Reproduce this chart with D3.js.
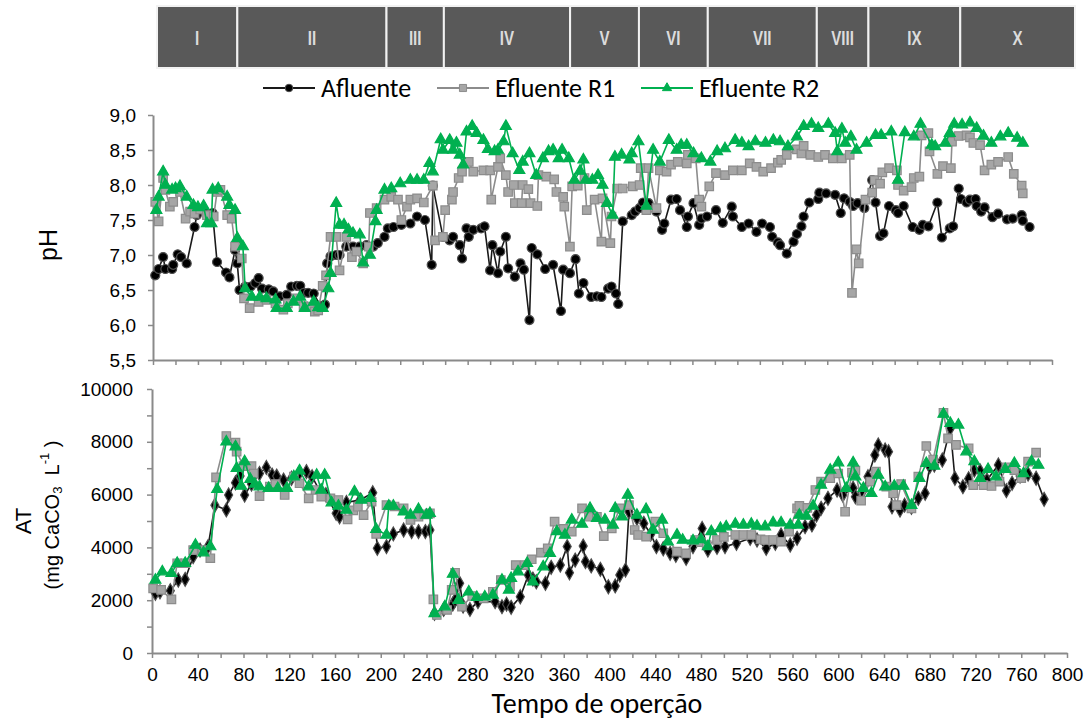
<!DOCTYPE html>
<html>
<head>
<meta charset="utf-8">
<script src="https://cdn.jsdelivr.net/npm/d3@7"></script>
<style>
  body { margin: 0; background: #fff; }
  svg { display: block; }
</style>
</head>
<body>
<svg id="chart" width="1089" height="722"></svg>
<script>
// fases operacionais (dias)
var fases = ["I", "II", "III", "IV", "V", "VI", "VII", "VIII", "IX", "X"];
var faseLimites = [0, 70, 200, 250, 360, 420, 480, 575, 620, 700, 800];

var seriesNomes = ["Afluente", "Efluente R1", "Efluente R2"];

// pH: [dia, valor]
var phAfluente = [[2,6.71],[5,6.80],[9,6.97],[11,6.80],[17,6.80],[18,6.86],[22,7.01],[25,6.97],[30,6.88],[37,7.40],[39,7.57],[45,7.65],[50,7.55],[53,7.60],[57,6.90],[65,6.75],[68,6.68],[73,7.07],[75,6.88],[77,6.50],[82,6.55],[87,6.55],[91,6.60],[94,6.67],[97,6.52],[103,6.51],[107,6.48],[113,6.41],[119,6.43],[123,6.55],[128,6.56],[131,6.56],[134,6.46],[138,6.46],[143,6.45],[149,6.27],[153,6.29],[155,6.88],[158,6.98],[163,7.00],[166,7.00],[172,7.12],[178,7.12],[184,7.12],[190,7.14],[196,7.12],[200,7.17],[206,7.26],[209,7.38],[214,7.40],[221,7.43],[229,7.45],[235,7.55],[242,7.50],[248,6.86],[249,7.99],[258,7.26],[264,7.21],[267,7.26],[273,7.14],[275,6.95],[279,7.38],[281,7.26],[285,7.36],[292,7.38],[295,7.41],[300,6.78],[302,7.14],[307,6.74],[309,7.05],[314,7.26],[316,6.81],[322,6.69],[327,6.88],[330,6.79],[335,6.07],[337,7.10],[342,7.01],[349,6.80],[356,6.86],[363,6.20],[365,6.79],[371,6.74],[376,6.94],[379,6.45],[383,6.60],[390,6.40],[395,6.41],[399,6.40],[405,6.52],[408,6.55],[412,6.45],[414,6.30],[418,7.48],[426,7.57],[429,7.62],[433,7.67],[436,7.75],[441,7.74],[448,7.62],[453,7.36],[455,7.45],[461,7.79],[466,7.80],[469,7.64],[475,7.40],[476,7.55],[481,7.74],[486,7.43],[488,7.52],[493,7.55],[501,7.64],[507,7.46],[515,7.69],[516,7.55],[524,7.40],[530,7.45],[537,7.33],[542,7.45],[549,7.40],[551,7.26],[556,7.18],[558,7.14],[564,7.02],[570,7.19],[573,7.30],[577,7.41],[579,7.55],[584,7.75],[592,7.80],[593,7.89],[599,7.88],[607,7.86],[612,7.60],[615,7.81],[620,7.76],[623,7.70],[627,7.74],[633,7.67],[640,8.07],[643,7.75],[647,7.27],[650,7.31],[655,7.70],[661,7.64],[663,7.60],[668,7.70],[676,7.40],[682,7.36],[685,7.43],[690,7.41],[698,7.75],[702,7.25],[709,7.38],[712,7.41],[717,7.95],[719,7.80],[724,7.75],[727,7.79],[732,7.80],[733,7.70],[737,7.62],[740,7.68],[747,7.54],[752,7.59],[760,7.51],[765,7.52],[773,7.57],[774,7.49],[780,7.40]];

var phR1 = [[2,7.76],[5,7.48],[9,8.10],[11,7.93],[15,7.69],[18,7.76],[24,7.90],[29,7.52],[33,7.62],[37,7.59],[42,7.65],[48,7.57],[54,7.55],[57,7.90],[60,7.93],[66,7.57],[70,7.52],[73,7.12],[79,6.95],[81,6.38],[86,6.24],[94,6.33],[101,6.36],[109,6.31],[116,6.22],[120,6.31],[128,6.38],[134,6.27],[140,6.26],[144,6.19],[147,6.21],[151,6.56],[154,6.71],[158,7.26],[163,7.26],[166,6.78],[172,7.26],[177,6.97],[181,7.05],[187,6.88],[192,7.12],[193,7.60],[199,7.67],[206,7.79],[212,7.83],[218,7.79],[221,7.50],[226,7.69],[229,7.79],[235,7.81],[241,7.75],[249,7.99],[251,7.21],[258,7.26],[260,7.64],[266,7.79],[267,7.90],[272,8.10],[275,8.19],[281,8.33],[285,8.19],[294,8.21],[300,8.21],[301,7.79],[307,8.26],[309,8.38],[314,8.14],[316,7.90],[321,8.00],[322,7.74],[328,7.74],[329,8.00],[334,7.94],[336,7.74],[342,7.70],[343,8.14],[350,8.12],[357,8.08],[359,7.90],[365,7.83],[366,7.69],[371,7.12],[373,7.98],[378,7.99],[384,8.10],[386,7.64],[393,7.79],[399,7.19],[400,7.81],[407,7.17],[408,7.55],[413,7.95],[418,7.95],[427,7.98],[433,8.00],[434,8.24],[439,7.64],[441,8.24],[448,7.67],[451,8.21],[457,8.19],[461,8.29],[467,8.33],[475,8.31],[476,8.43],[483,8.38],[486,7.79],[488,7.69],[495,7.98],[501,8.17],[509,8.14],[516,8.21],[524,8.21],[531,8.31],[537,8.26],[543,8.19],[550,8.24],[556,8.32],[559,8.36],[564,8.43],[573,8.51],[577,8.45],[579,8.56],[585,8.43],[592,8.40],[598,8.43],[605,8.38],[613,8.38],[620,8.43],[622,6.46],[626,7.08],[628,6.88],[634,7.79],[640,7.89],[642,8.07],[647,8.02],[649,8.18],[655,8.24],[662,8.21],[663,8.00],[668,7.92],[675,7.97],[677,8.10],[682,8.12],[684,8.71],[690,8.74],[691,8.48],[698,8.16],[703,8.27],[710,8.24],[711,8.62],[717,8.70],[724,8.71],[727,8.68],[730,8.60],[736,8.57],[740,8.21],[746,8.29],[752,8.33],[761,8.40],[766,8.16],[773,7.99],[774,7.88]];

var phR2 = [[3,7.64],[5,7.83],[9,8.19],[11,8.00],[17,7.93],[20,7.95],[24,7.98],[30,7.83],[36,7.71],[40,7.68],[45,7.70],[48,7.45],[52,7.45],[53,7.93],[58,7.95],[66,7.83],[68,7.71],[73,7.64],[75,7.24],[80,7.12],[82,6.52],[88,6.40],[95,6.40],[101,6.38],[109,6.36],[110,6.24],[119,6.24],[125,6.33],[131,6.40],[135,6.24],[143,6.33],[147,6.25],[151,6.24],[156,6.52],[158,6.74],[163,7.74],[166,7.43],[170,7.43],[174,7.36],[178,7.31],[184,7.29],[187,6.89],[193,7.00],[198,7.48],[199,7.64],[206,7.93],[212,7.95],[220,8.02],[229,8.07],[235,8.07],[241,8.07],[246,8.31],[249,8.19],[256,8.65],[258,8.50],[264,8.64],[267,8.50],[270,8.60],[273,8.43],[276,8.29],[279,8.76],[284,8.84],[288,8.74],[294,8.64],[298,8.51],[304,8.48],[307,8.50],[312,8.62],[314,8.84],[320,8.45],[326,8.21],[329,8.33],[335,8.45],[341,8.14],[347,8.38],[352,8.48],[356,8.50],[361,8.38],[364,8.50],[370,8.38],[375,8.07],[380,8.20],[383,8.36],[385,8.07],[391,8.07],[396,8.14],[400,8.00],[404,7.74],[409,7.57],[411,8.40],[417,8.43],[424,8.36],[426,8.45],[432,8.62],[439,7.70],[445,8.50],[451,8.33],[459,8.64],[466,8.50],[470,8.57],[475,8.57],[481,8.45],[488,8.38],[496,8.33],[502,8.48],[509,8.52],[518,8.64],[524,8.60],[530,8.55],[536,8.62],[545,8.60],[552,8.64],[558,8.62],[565,8.55],[573,8.69],[579,8.84],[586,8.87],[592,8.81],[601,8.87],[607,8.74],[609,8.48],[613,8.80],[616,8.60],[621,8.69],[626,8.50],[635,8.60],[643,8.71],[648,8.71],[657,8.76],[663,8.07],[669,8.75],[677,8.69],[683,8.87],[693,8.57],[696,8.55],[705,8.60],[709,8.74],[713,8.87],[720,8.86],[727,8.89],[733,8.81],[739,8.70],[746,8.60],[754,8.69],[761,8.74],[769,8.67],[774,8.60]];

// AT (mg CaCO3 L-1): [dia, valor]
var atAfluente = [[3,2260],[7,2320],[16,2360],[23,2765],[29,2790],[36,3650],[42,3900],[49,4030],[55,5600],[65,5420],[67,5985],[73,6450],[77,6700],[81,5985],[87,6400],[94,6800],[100,7030],[105,6740],[109,6700],[115,6550],[122,6620],[128,6750],[135,6870],[140,6680],[147,6110],[152,6000],[161,5290],[164,5160],[170,5700],[182,5800],[193,6070],[197,3965],[205,4030],[211,4510],[220,4660],[227,4600],[233,4600],[239,4600],[243,4660],[247,1500],[255,1650],[263,1855],[265,2000],[269,2640],[272,1780],[278,1650],[285,1945],[300,1945],[306,1755],[310,1850],[314,1730],[322,2130],[329,2950],[333,2800],[336,2700],[344,2640],[349,3245],[357,3330],[363,4030],[365,3040],[370,3520],[377,4050],[379,3460],[384,3300],[392,3170],[399,2510],[405,2540],[409,2955],[414,3145],[417,5350],[424,5100],[430,4910],[436,4500],[441,4030],[447,3950],[453,3775],[458,3700],[467,3590],[473,4030],[481,4720],[486,3900],[494,4000],[501,4030],[511,4155],[523,4345],[529,4280],[537,3965],[545,4155],[550,4470],[558,4090],[564,4345],[571,4785],[577,4850],[581,5225],[585,5480],[591,5860],[599,6175],[604,5985],[613,6240],[615,5920],[621,6100],[626,6680],[632,7500],[635,7880],[641,7690],[644,7625],[647,5540],[654,5415],[658,5600],[664,5520],[670,5860],[676,6050],[680,7060],[684,7120],[691,7310],[698,8510],[702,6620],[709,6300],[714,6600],[719,6930],[724,6900],[730,6550],[740,7120],[747,6150],[752,6430],[759,6700],[766,6780],[773,6620],[780,5820]];

var atR1 = [[1,2450],[8,2390],[17,2030],[22,3400],[29,3400],[36,3900],[44,3900],[51,3590],[56,6655],[65,8220],[73,7970],[74,7625],[80,7080],[87,7080],[89,6800],[94,5945],[103,6300],[108,6400],[116,5985],[124,6680],[129,6430],[137,5860],[143,6175],[148,5920],[156,5860],[163,5795],[171,5060],[176,5400],[180,5540],[185,5225],[192,5730],[196,4510],[205,5600],[212,5550],[220,5480],[226,5040],[233,5160],[238,5250],[243,5290],[246,2030],[249,1440],[258,1630],[262,2390],[265,3040],[271,1755],[280,2160],[290,2070],[298,2320],[305,2765],[313,2510],[318,3330],[326,3330],[332,3550],[340,3800],[346,3965],[352,4975],[360,4700],[367,4600],[376,5480],[382,5160],[389,5160],[395,4430],[402,4720],[409,5480],[417,5600],[422,4660],[425,4470],[432,4405],[440,4975],[447,4535],[459,3840],[467,3775],[475,4280],[480,4200],[485,4090],[494,4280],[500,4400],[510,4470],[517,4470],[524,4470],[532,4305],[536,4280],[543,4280],[550,4215],[557,4600],[564,5480],[566,5570],[573,5500],[580,6175],[585,6490],[593,6620],[600,6800],[606,5350],[612,6830],[615,6905],[620,5770],[628,6490],[633,6870],[642,6300],[648,6050],[651,5600],[655,6400],[664,5480],[670,6680],[677,7840],[683,7330],[692,9100],[696,8130],[703,7880],[714,7750],[718,6360],[727,6360],[734,6325],[741,6490],[747,7030],[754,6930],[760,6620],[766,7250],[773,7590]];

var atR2 = [[3,2765],[9,3080],[17,3020],[22,3400],[29,3400],[38,4090],[45,3800],[51,4030],[57,6200],[65,8000],[73,7815],[74,7000],[78,6325],[81,7250],[86,6580],[90,6400],[94,6300],[102,6240],[110,6240],[118,6240],[124,6680],[129,6905],[137,6300],[144,6740],[148,6175],[151,6740],[157,5695],[163,5570],[170,5415],[177,6110],[183,5795],[191,5860],[196,4685],[205,4470],[207,5570],[211,5570],[220,5350],[226,5225],[233,5440],[240,5225],[243,5290],[247,1500],[256,1755],[263,2990],[268,2000],[277,2320],[284,2110],[291,2130],[298,2200],[306,2765],[312,2390],[314,2830],[320,3080],[328,3400],[333,2700],[342,3270],[348,3775],[354,4600],[361,4470],[367,5040],[376,4885],[383,5480],[389,5100],[396,5040],[403,4850],[405,5480],[411,5160],[416,5985],[424,5225],[432,5440],[438,4660],[446,5040],[451,4215],[459,4470],[464,4280],[473,4255],[480,4300],[486,4030],[489,4600],[497,4720],[502,4785],[510,4885],[517,4850],[524,4885],[529,4810],[536,4785],[543,4935],[550,4935],[558,4850],[565,4850],[566,5225],[572,5190],[578,5570],[585,6360],[593,6930],[600,7210],[607,6240],[613,7210],[615,6680],[622,6240],[629,6050],[635,6740],[641,6300],[649,6325],[657,6325],[664,5600],[671,6620],[677,7185],[684,7080],[692,9050],[698,8700],[705,8640],[712,7625],[719,7250],[724,6620],[731,6960],[738,6680],[746,6960],[754,7185],[762,6800],[769,7250],[775,7120]];

var phTicks = [5.5, 6.0, 6.5, 7.0, 7.5, 8.0, 8.5, 9.0];
var atTicks = [0, 1000, 2000, 3000, 4000, 5000, 6000, 7000, 8000, 9000, 10000];
var diaTicks = d3.range(0, 801, 20);

var svg = d3.select("#chart");
var corEixo = "#8a8a8a";
var fonteNum = "'Liberation Sans', Arial, sans-serif";
var fonteTxt = "Carlito, Calibri, Lato, 'Open Sans', sans-serif";

// escalas
var xFase = d3.scaleLinear().domain([0, 800]).range([157, 1075]);
var xTop = d3.scaleLinear().domain([0, 800]).range([153, 1052]);
var yPh = d3.scaleLinear().domain([5.5, 9]).range([360, 115]);
var xBot = d3.scaleLinear().domain([0, 800]).range([152, 1067]);
var yAt = d3.scaleLinear().domain([0, 10000]).range([653, 389]);

// barra de fases
var gFase = svg.append("g");
fases.forEach(function (f, i) {
    var x0 = xFase(faseLimites[i]), x1 = xFase(faseLimites[i + 1]);
    gFase.append("rect")
        .attr("x", x0).attr("y", 6)
        .attr("width", x1 - x0).attr("height", 62)
        .attr("fill", "#595959")
        .attr("stroke", "#f2f2f2").attr("stroke-width", 2);
    gFase.append("text")
        .attr("transform", "translate(" + ((x0 + x1) / 2) + ",38) scale(0.72,1)")
        .attr("text-anchor", "middle")
        .attr("dominant-baseline", "central")
        .attr("font-family", fonteNum)
        .attr("font-weight", "bold")
        .attr("font-size", 21)
        .attr("fill", "#dcdcdc")
        .text(f);
});

// estilos das series
var estilos = [
    { linha: "#1a1a1a", fill: "#000", stroke: "#4d4d4d", simbolo: d3.symbolCircle, tam: 64, simboloAt: d3.symbolDiamond, tamAt: 56 },
    { linha: "#8c8c8c", fill: "#a6a6a6", stroke: "#8c8c8c", simbolo: d3.symbolSquare, tam: 72, simboloAt: d3.symbolSquare, tamAt: 72 },
    { linha: "#00b050", fill: "#00b050", stroke: "#00b050", simbolo: d3.symbolTriangle, tam: 52, simboloAt: d3.symbolTriangle, tamAt: 52 }
];

function desenhaSerie(g, dados, xs, ys, est, simb, tam) {
    var line = d3.line().x(function (d) { return xs(d[0]); }).y(function (d) { return ys(d[1]); });
    g.append("path").datum(dados)
        .attr("d", line)
        .attr("fill", "none")
        .attr("stroke", est.linha)
        .attr("stroke-width", 1.6);
    g.selectAll(null).data(dados).enter().append("path")
        .attr("transform", function (d) { return "translate(" + xs(d[0]) + "," + ys(d[1]) + ")"; })
        .attr("d", d3.symbol().type(simb).size(tam))
        .attr("fill", est.fill)
        .attr("stroke", est.stroke)
        .attr("stroke-width", 1.2);
}

// eixos
function estiloEixo(g) {
    g.select(".domain").attr("stroke", corEixo).attr("stroke-width", 2);
    g.selectAll(".tick line").attr("stroke", corEixo).attr("stroke-width", 1.5);
    g.selectAll(".tick text").attr("font-family", fonteNum).attr("font-size", 19).attr("fill", "#000");
}

var virgula = d3.formatLocale({ decimal: ",", thousands: "", grouping: [3], currency: ["", ""] }).format(".1f");

svg.append("g")
    .attr("transform", "translate(" + xTop(0) + ",0)")
    .call(d3.axisLeft(yPh).tickValues(phTicks).tickFormat(virgula).tickSize(5).tickSizeOuter(0).tickPadding(12))
    .call(estiloEixo);

svg.append("g")
    .attr("transform", "translate(0," + yPh(5.5) + ")")
    .call(d3.axisBottom(xTop).tickValues(diaTicks).tickFormat("").tickSize(5).tickSizeOuter(0))
    .call(estiloEixo);

svg.append("g")
    .attr("transform", "translate(" + xBot(0) + ",0)")
    .call(d3.axisLeft(yAt).tickValues(atTicks)
        .tickFormat(function (d) { return d % 2000 === 0 ? d : ""; })
        .tickSize(5).tickSizeOuter(0).tickPadding(14))
    .call(estiloEixo);

svg.append("g")
    .attr("transform", "translate(0," + yAt(0) + ")")
    .call(d3.axisBottom(xBot).tickValues(diaTicks)
        .tickFormat(function (d) { return d % 40 === 0 ? d : ""; })
        .tickSize(5).tickSizeOuter(0).tickPadding(10))
    .call(estiloEixo);

// series
var gPh = svg.append("g");
var gAt = svg.append("g");
[phAfluente, phR1, phR2].forEach(function (s, i) {
    desenhaSerie(gPh, s, xTop, yPh, estilos[i], estilos[i].simbolo, estilos[i].tam);
});
[atAfluente, atR1, atR2].forEach(function (s, i) {
    desenhaSerie(gAt, s, xBot, yAt, estilos[i], estilos[i].simboloAt, estilos[i].tamAt);
});

// legenda
var legX = [263, 437, 641];
var gLeg = svg.append("g");
seriesNomes.forEach(function (nome, i) {
    var est = estilos[i];
    var y = 88;
    gLeg.append("line")
        .attr("x1", legX[i]).attr("x2", legX[i] + 52)
        .attr("y1", y).attr("y2", y)
        .attr("stroke", est.linha).attr("stroke-width", 1.8);
    gLeg.append("path")
        .attr("transform", "translate(" + (legX[i] + 26) + "," + y + ")")
        .attr("d", d3.symbol().type(est.simbolo).size(est.tam * 0.7))
        .attr("fill", est.fill).attr("stroke", est.stroke).attr("stroke-width", 1);
    gLeg.append("text")
        .attr("x", legX[i] + 58).attr("y", y)
        .attr("dominant-baseline", "central")
        .attr("font-family", fonteTxt)
        .attr("font-size", 26)
        .attr("fill", "#000")
        .text(nome);
});

// titulos dos eixos
svg.append("text")
    .attr("transform", "translate(48,245) rotate(-90)")
    .attr("text-anchor", "middle").attr("dominant-baseline", "central")
    .attr("font-family", fonteNum).attr("font-size", 25)
    .text("pH");

svg.append("text")
    .attr("transform", "translate(23,521) rotate(-90)")
    .attr("text-anchor", "middle").attr("dominant-baseline", "central")
    .attr("font-family", fonteNum).attr("font-size", 22)
    .text("AT");

var tUn = svg.append("text")
    .attr("transform", "translate(52,515) rotate(-90)")
    .attr("text-anchor", "middle").attr("dominant-baseline", "central")
    .attr("font-family", fonteNum).attr("font-size", 20);
tUn.append("tspan").text("(mg CaCO");
tUn.append("tspan").attr("font-size", 13).attr("dy", 5).text("3");
tUn.append("tspan").attr("dy", -5).text("\u00a0\u00a0L");
tUn.append("tspan").attr("font-size", 13).attr("dy", -8).text("-1");
tUn.append("tspan").attr("dy", 8).text("\u00a0)");

svg.append("text")
    .attr("x", 597).attr("y", 703)
    .attr("text-anchor", "middle").attr("dominant-baseline", "central")
    .attr("font-family", fonteTxt).attr("font-size", 28)
    .text("Tempo de operção");
</script>
</body>
</html>
